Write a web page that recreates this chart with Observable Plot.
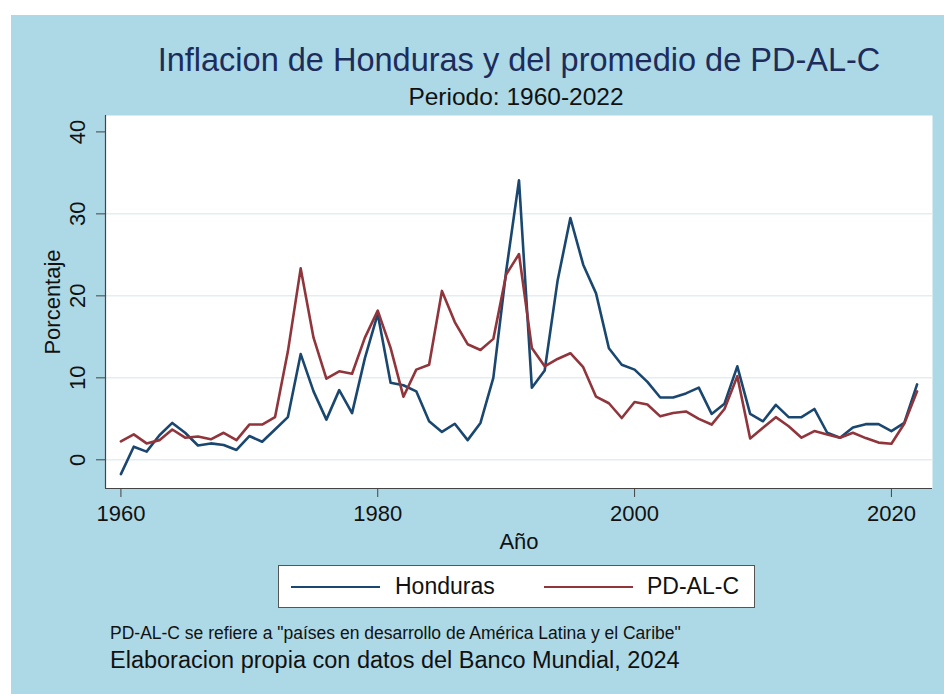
<!DOCTYPE html>
<html>
<head>
<meta charset="utf-8">
<script src="https://cdn.jsdelivr.net/npm/d3@7"></script>
<script src="https://cdn.jsdelivr.net/npm/@observablehq/plot@0.6"></script>
<style>
  html, body { margin: 0; padding: 0; background: #ffffff; }
  body { width: 944px; height: 694px; position: relative; overflow: hidden;
         font-family: "Liberation Sans", Arial, Helvetica, sans-serif; }
  #panel { position: absolute; left: 11px; top: 15px; width: 933px; height: 679px; background: #add8e6; }
  .abs { position: absolute; white-space: nowrap; }
  #chart { left: 0; top: 85px; z-index: 1; }
  #title { left: 0; width: 1016px; top: 27px; text-align: center; font-size: 32.5px; color: #1c2c5b; line-height: 36px; z-index: 2; }
  #subtitle { left: 0; width: 1010px; top: 69px; text-align: center; font-size: 24.5px; color: #111; line-height: 26px; z-index: 2; }
  #legend { left: 267px; top: 550px; width: 475px; height: 41px; background: #fff; border: 1px solid #555; z-index: 2; }
  .lg-line { position: absolute; top: 20px; width: 89px; height: 0; border-top: 2.5px solid; }
  .lg-text { position: absolute; top: 7px; font-size: 23px; line-height: 26px; color: #111; }
  #note1 { left: 99px; top: 609px; font-size: 17.5px; color: #111; line-height: 18px; z-index: 2; }
  #note2 { left: 99px; top: 633px; font-size: 23.5px; color: #111; line-height: 24px; z-index: 2; }
</style>
</head>
<body>
<div id="panel">
  <div id="chart" class="abs"></div>
  <div id="title" class="abs"></div>
  <div id="subtitle" class="abs"></div>
  <div id="legend" class="abs"></div>
  <div id="note1" class="abs"></div>
  <div id="note2" class="abs"></div>
</div>
<script>
// ---------- data ----------
const years = [1960,1961,1962,1963,1964,1965,1966,1967,1968,1969,
               1970,1971,1972,1973,1974,1975,1976,1977,1978,1979,
               1980,1981,1982,1983,1984,1985,1986,1987,1988,1989,
               1990,1991,1992,1993,1994,1995,1996,1997,1998,1999,
               2000,2001,2002,2003,2004,2005,2006,2007,2008,2009,
               2010,2011,2012,2013,2014,2015,2016,2017,2018,2019,
               2020,2021,2022];
const honduras = [-1.75,1.6,1.0,3.0,4.5,3.3,1.75,2.0,1.8,1.2,
                  2.9,2.2,3.7,5.2,12.9,8.35,4.9,8.5,5.7,12.4,
                  17.8,9.4,9.1,8.35,4.7,3.4,4.4,2.4,4.5,10.0,
                  23.0,34.1,8.8,10.9,21.8,29.5,23.8,20.3,13.6,11.6,
                  11.0,9.5,7.6,7.6,8.1,8.8,5.6,6.85,11.4,5.6,
                  4.7,6.7,5.2,5.2,6.2,3.3,2.7,3.95,4.35,4.35,
                  3.5,4.5,9.2];
const pdalc = [2.24,3.1,2.0,2.4,3.7,2.7,2.85,2.5,3.3,2.4,
               4.3,4.3,5.2,13.2,23.35,14.9,9.9,10.8,10.5,14.9,
               18.2,13.65,7.7,11.0,11.6,20.6,16.8,14.1,13.4,14.75,
               22.6,25.1,13.65,11.4,12.3,13.0,11.3,7.7,6.9,5.1,
               7.05,6.75,5.3,5.7,5.9,5.0,4.3,6.2,10.2,2.6,
               3.9,5.2,4.1,2.7,3.5,3.1,2.7,3.3,2.65,2.1,
               1.95,4.4,8.35];
const seriesNames = ["Honduras", "PD-AL-C"];
const seriesColors = ["#1a476f", "#90353b"];
const xTicks = [1960, 1980, 2000, 2020];
const yTicks = [0, 10, 20, 30, 40];
const gridVals = [0, 10, 20, 30];
const titleText = "Inflacion de Honduras y del promedio de PD-AL-C";
const subtitleText = "Periodo: 1960-2022";
const xLabel = "Año";
const yLabel = "Porcentaje";
const note1Text = 'PD-AL-C se refiere a "países en desarrollo de América Latina y el Caribe"';
const note2Text = "Elaboracion propia con datos del Banco Mundial, 2024";

// ---------- build ----------
const rows = [];
years.forEach((yr, i) => {
  rows.push({year: yr, value: honduras[i], series: seriesNames[0]});
  rows.push({year: yr, value: pdalc[i], series: seriesNames[1]});
});

document.getElementById("title").textContent = titleText;
document.getElementById("subtitle").textContent = subtitleText;
document.getElementById("note1").textContent = note1Text;
document.getElementById("note2").textContent = note2Text;

const xDom = [1958.8, 2023.2];
const yDom = [-3.5, 42];

const chart = Plot.plot({
  width: 933,
  height: 460,
  marginLeft: 94,
  marginRight: 12,
  marginTop: 15,
  marginBottom: 72,
  style: {background: "transparent", fontFamily: "'Liberation Sans', Arial, sans-serif", fontSize: "22px", color: "#111", overflow: "visible"},
  x: {domain: xDom, label: null},
  y: {domain: yDom, label: null},
  color: {domain: seriesNames, range: seriesColors},
  marks: [
    Plot.frame({fill: "white", stroke: null}),
    Plot.ruleY(gridVals, {stroke: "#e4edf1", strokeWidth: 1.5}),
    Plot.line(rows.filter(d => d.series === seriesNames[0]), {x: "year", y: "value", stroke: "series", strokeWidth: 2.6}),
    Plot.line(rows.filter(d => d.series === seriesNames[1]), {x: "year", y: "value", stroke: "series", strokeWidth: 2.6}),
    Plot.ruleX([xDom[0]], {stroke: "#444", strokeWidth: 1.2}),
    Plot.ruleY([yDom[0]], {stroke: "#444", strokeWidth: 1.2}),
    Plot.axisX({ticks: xTicks, tickSize: 9, tickPadding: 8, tickFormat: d => String(d), stroke: "#444", fontSize: 22, fill: "#111", label: null}),
    Plot.axisY({ticks: yTicks, tickSize: 9, tickPadding: 12, tickRotate: -90, tickFormat: d => String(d), stroke: "#444", fontSize: 22, fill: "#111", label: null}),
    Plot.text([xLabel], {frameAnchor: "bottom", dy: 53, lineAnchor: "middle", fontSize: 22, fill: "#111"}),
    Plot.text([yLabel], {frameAnchor: "left", dx: -53, rotate: -90, lineAnchor: "middle", textAnchor: "middle", fontSize: 22, fill: "#111"})
  ]
});
document.getElementById("chart").appendChild(chart);

// legend
const lg = document.getElementById("legend");
const lgPos = [{line: 12, text: 116}, {line: 265, text: 368}];
seriesNames.forEach((name, i) => {
  const ln = document.createElement("div");
  ln.className = "lg-line";
  ln.style.left = lgPos[i].line + "px";
  ln.style.borderTopColor = seriesColors[i];
  lg.appendChild(ln);
  const tx = document.createElement("div");
  tx.className = "lg-text";
  tx.style.left = lgPos[i].text + "px";
  tx.textContent = name;
  lg.appendChild(tx);
});
</script>
</body>
</html>
